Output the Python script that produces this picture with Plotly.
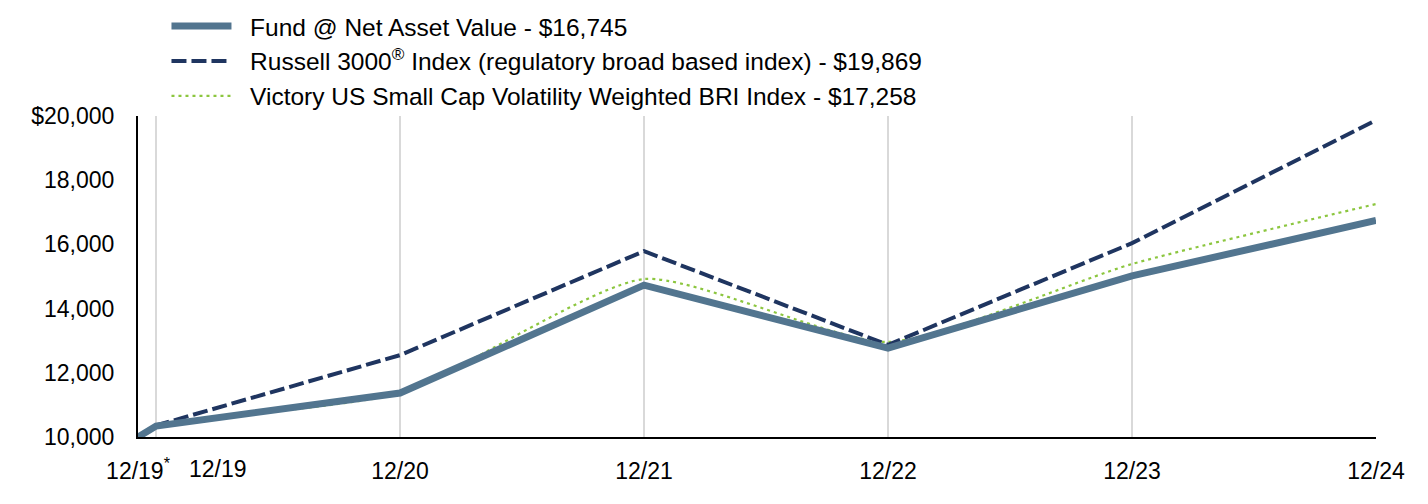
import plotly.graph_objects as go

x_pos = [-0.074, 0, 1, 2, 3, 4, 5]
x_labels = ["12/19<sup>*</sup>", "", "12/20", "12/21", "12/22", "12/23", "12/24"]
shifted_label = "12/19"

fund = [10000, 10340, 11370, 14730, 12770, 15020, 16745]
russell = [10000, 10360, 12550, 15790, 12870, 16040, 19869]
victory = [10000, 10340, 11370, 14920, 12960, 15390, 17258]

y_ticks = [10000, 12000, 14000, 16000, 18000, 20000]
y_labels = ["10,000", "12,000", "14,000", "16,000", "18,000", "$20,000"]

pad = "\u00a0" * 2
names = [
    pad + "Fund @ Net Asset Value - $16,745",
    pad + "Russell 3000<sup>®</sup> Index (regulatory broad based index) - $19,869",
    pad + "Victory US Small Cap Volatility Weighted BRI Index - $17,258",
]

fig = go.Figure()
fig.add_trace(go.Scatter(x=x_pos, y=victory, mode="lines", name=names[2],
                         line=dict(color="#8cc63f", width=2.2, dash="3px,4px", shape="spline", smoothing=0.6)))
fig.add_trace(go.Scatter(x=x_pos, y=russell, mode="lines", name=names[1],
                         line=dict(color="#1f3560", width=4, dash="15px,5px")))
fig.add_trace(go.Scatter(x=x_pos, y=fund, mode="lines", name=names[0],
                         line=dict(color="#52758f", width=7)))

fig.add_annotation(x=x_pos[1], y=0, xref="x", yref="paper", text=shifted_label,
                   showarrow=False, xanchor="center", yanchor="top", xshift=62, yshift=-17,
                   font=dict(size=23))

fig.update_layout(
    width=1428, height=504,
    margin=dict(l=130, r=60, t=108, b=75, autoexpand=False),
    paper_bgcolor="white", plot_bgcolor="white",
    font=dict(family="Liberation Sans, Arial, sans-serif", size=23, color="#000000"),
    showlegend=True,
    legend=dict(x=0.023, y=1.35, xanchor="left", yanchor="top", traceorder="reversed",
                font=dict(size=24.5), bgcolor="rgba(0,0,0,0)", itemwidth=60),
    xaxis=dict(range=[-0.074, 5], tickvals=x_pos, ticktext=x_labels, tickangle=0,
               showgrid=True, gridcolor="#d9d9d9", gridwidth=1.5,
               showline=True, linecolor="#000000", linewidth=2,
               ticks="outside", ticklen=12, tickcolor="rgba(0,0,0,0)",
               zeroline=False, fixedrange=True),
    yaxis=dict(range=[10000, 20000], tickvals=y_ticks, ticktext=y_labels,
               showgrid=False, showline=True, linecolor="#000000", linewidth=2,
               ticks="outside", ticklen=17, tickcolor="rgba(0,0,0,0)",
               zeroline=False, fixedrange=True),
)

fig.write_html("out.html")
